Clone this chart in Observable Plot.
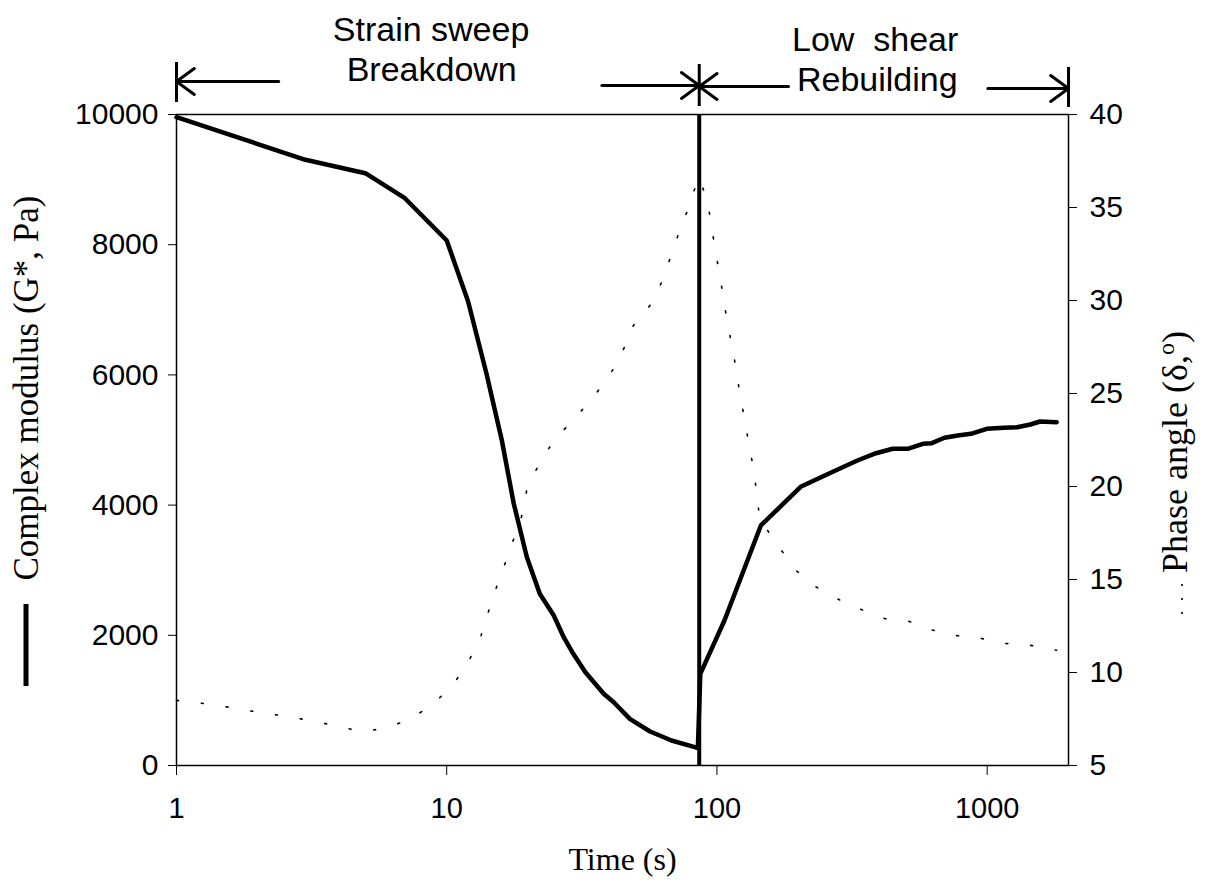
<!DOCTYPE html>
<html>
<head>
<meta charset="utf-8">
<script src="https://cdn.jsdelivr.net/npm/d3@7"></script>
<script src="https://cdn.jsdelivr.net/npm/@observablehq/plot@0.6"></script>
<style>
  html, body { margin: 0; padding: 0; background: #fff; }
  #chart svg { display: block; }
</style>
</head>
<body>
<div id="chart"></div>
<script>
// ---- Data ----
// Complex modulus G* (Pa) versus time (s)
const gTime = [1, 3, 5, 7, 10, 12, 14, 16, 17.7, 19.8, 22.1, 24.9, 27.1, 29.4, 32.6, 38.1, 41.5, 47.6, 56.6, 67.9, 82.8, 85, 86.8, 106.6, 145.4, 205, 266, 331, 388, 447, 508, 578, 624, 695, 778, 871, 997, 1153, 1291, 1445, 1570, 1808];
const gModulus = [9958, 9304, 9098, 8714, 8065, 7128, 6037, 4992, 4025, 3200, 2637, 2304, 1971, 1716, 1433, 1101, 972, 717, 522, 384, 281, 266, 1408, 2227, 3687, 4286, 4505, 4685, 4797, 4865, 4865, 4942, 4951, 5034, 5069, 5095, 5172, 5187, 5197, 5238, 5284, 5273];

// Phase angle delta (degrees) versus time (s)
const pTime = [1, 1.21, 1.48, 1.8, 2.21, 2.7, 3.31, 4.03, 4.92, 6.0, 7.3, 8.93, 10.6, 12.1, 13.4, 14.3, 15.3, 16.5, 17.8, 19.1, 19.8, 22.0, 25.0, 29.7, 35.1, 40.3, 45.0, 49.1, 56.8, 62.9, 67.5, 72.6, 78.5, 84.0, 86.0, 92.4, 95.6, 98.6, 102.6, 105.8, 109.6, 114.2, 118.3, 122, 127.4, 131.5, 137.4, 140.3, 144.4, 166.8, 192.9, 231.4, 282.8, 344.3, 419.7, 512.3, 624.7, 761.8, 928.6, 1133, 1387, 1691, 1808];
const pAngle = [8.5, 8.37, 8.19, 7.97, 7.78, 7.58, 7.35, 7.08, 6.81, 7.04, 7.47, 8.32, 9.37, 10.65, 11.99, 13.32, 14.61, 15.93, 17.28, 18.56, 19.87, 21.22, 22.51, 23.64, 24.86, 26.02, 27.35, 28.66, 29.77, 31.08, 32.38, 33.71, 34.98, 36.3, 36.6, 35.3, 33.96, 32.69, 31.34, 30.04, 28.75, 27.40, 26.15, 24.80, 23.46, 22.15, 20.82, 19.50, 18.21, 16.92, 15.58, 14.62, 13.92, 13.37, 12.89, 12.76, 12.29, 11.99, 11.87, 11.57, 11.51, 11.27, 11.2];

// Test phases (s): strain sweep breakdown, then low-shear rebuilding
const phaseStart = 1;
const phaseSwitch = 86;
const phaseEnd = 2000;

// Axes
const xTicks = [1, 10, 100, 1000];
const gTicks = [0, 2000, 4000, 6000, 8000, 10000];
const pTicks = [5, 10, 15, 20, 25, 30, 35, 40];

// Texts
const xTitle = "Time (s)";
const gTitle = "Complex modulus (G*, Pa)";
const pTitle = "Phase angle (δ,o)";
const phaseLabels = ["Strain sweep", "Breakdown", "Low \u00a0shear", "Rebuilding"];

// ---- Layout ----
const W = 1216, H = 886;
const mL = 176, mR = 148, mT = 114, mB = 121;
const gMin = 0, gMax = 10000, pMin = 5, pMax = 40;
const frameH = H - mT - mB;
const toG = p => (p - pMin) / (pMax - pMin) * (gMax - gMin) + gMin;
const above = px => gMax + px * (gMax - gMin) / frameH; // level px above the frame top

const gRows = gTime.map((t, i) => ({t, v: gModulus[i]}));
const pRows = pTime.map((t, i) => ({t, v: toG(pAngle[i])}));

const sans = "Liberation Sans, Arial, sans-serif";
const serif = "Liberation Serif, Times New Roman, serif";

const arrows = [
  {x1: 2.39, x2: phaseStart, y: above(33)},
  {x1: 37.5, x2: phaseSwitch, y: above(29)},
  {x1: 184, x2: phaseSwitch, y: above(28)},
  {x1: 1006, x2: phaseEnd, y: above(26)}
];
const bars = [
  {t: phaseStart, y1: above(52), y2: above(12)},
  {t: phaseSwitch, y1: above(50), y2: above(8)},
  {t: phaseEnd, y1: above(47), y2: above(7)}
];
const labelRows = [
  {text: phaseLabels[0], t: 8.75, y: above(74)},
  {text: phaseLabels[1], t: 8.8, y: above(34)},
  {text: phaseLabels[2], t: 385, y: above(64)},
  {text: phaseLabels[3], t: 392, y: above(24)}
];

const svg = Plot.plot({
  width: W,
  height: H,
  marginLeft: mL,
  marginRight: mR,
  marginTop: mT,
  marginBottom: mB,
  style: {fontFamily: sans, color: "black", background: "white", overflow: "visible"},
  x: {type: "log", domain: [phaseStart, phaseEnd]},
  y: {domain: [gMin, gMax]},
  marks: [
    Plot.frame({stroke: "black", strokeWidth: 1.5}),
    Plot.axisY(gTicks, {anchor: "left", tickSize: 8, tickPadding: 10, fontSize: 30, label: null, tickFormat: d => String(d)}),
    Plot.axisY(pTicks.map(toG), {anchor: "right", tickSize: 8, tickPadding: 13, fontSize: 30, label: null,
      tickFormat: d => String(Math.round(pMin + (d - gMin) / (gMax - gMin) * (pMax - pMin)))}),
    Plot.axisX(xTicks, {anchor: "bottom", tickSize: 10, label: null, tickFormat: () => ""}),
    Plot.text(xTicks, {x: d => d, y: () => gMin, text: d => String(d), lineAnchor: "top", dy: 32, fontSize: 29, fill: "black"}),
    // phase boundary
    Plot.ruleX([phaseSwitch], {y1: gMin, y2: gMax, stroke: "black", strokeWidth: 4}),
    // phase angle (dotted)
    Plot.line(pRows, {x: "t", y: "v", stroke: "black", strokeWidth: 1.6, strokeDasharray: "2,23"}),
    // complex modulus (solid)
    Plot.line(gRows, {x: "t", y: "v", stroke: "black", strokeWidth: 4.5}),
    // annotation arrows above the frame
    Plot.arrow(arrows, {x1: "x1", x2: "x2", y1: "y", y2: "y", stroke: "black", strokeWidth: 3, headLength: 11, headAngle: 72}),
    Plot.ruleX(bars, {x: "t", y1: "y1", y2: "y2", stroke: "black", strokeWidth: 3}),
    Plot.text(labelRows, {x: "t", y: "y", text: "text", fontSize: 34, textAnchor: "middle", lineAnchor: "bottom", fill: "black"}),
    // axis titles
    Plot.text([xTitle], {text: d => d, frameAnchor: "bottom", lineAnchor: "middle", dy: 94, fontFamily: serif, fontSize: 32, fill: "black"}),
    Plot.text([gTitle], {text: d => d, frameAnchor: "left", rotate: -90, dx: -139, dy: -52, lineAnchor: "bottom", textAnchor: "middle", fontFamily: serif, fontSize: 35, fill: "black"}),
    Plot.text([pTitle], {text: d => d, frameAnchor: "right", rotate: -90, dx: 118, dy: 12, lineAnchor: "bottom", textAnchor: "middle", fontFamily: serif, fontSize: 36, fill: "black"})
  ]
});

document.getElementById("chart").appendChild(svg);

// superscript "o" in the phase angle title
d3.select(svg).selectAll("text").filter(function () { return this.textContent === pTitle; }).each(function () {
  const t = d3.select(this);
  t.text(null);
  t.append("tspan").text("Phase angle (δ,");
  t.append("tspan").attr("dy", -13).attr("font-size", 24).text("o");
  t.append("tspan").attr("dy", 13).text(")");
});

// legend keys beside the axis titles
const key = d3.select(svg).append("g");
key.append("line").attr("x1", 26).attr("x2", 26).attr("y1", 604).attr("y2", 686)
  .attr("stroke", "black").attr("stroke-width", 5);
key.append("line").attr("x1", 1182).attr("x2", 1182).attr("y1", 584).attr("y2", 616)
  .attr("stroke", "black").attr("stroke-width", 1.6).attr("stroke-dasharray", "2,12");
</script>
</body>
</html>
